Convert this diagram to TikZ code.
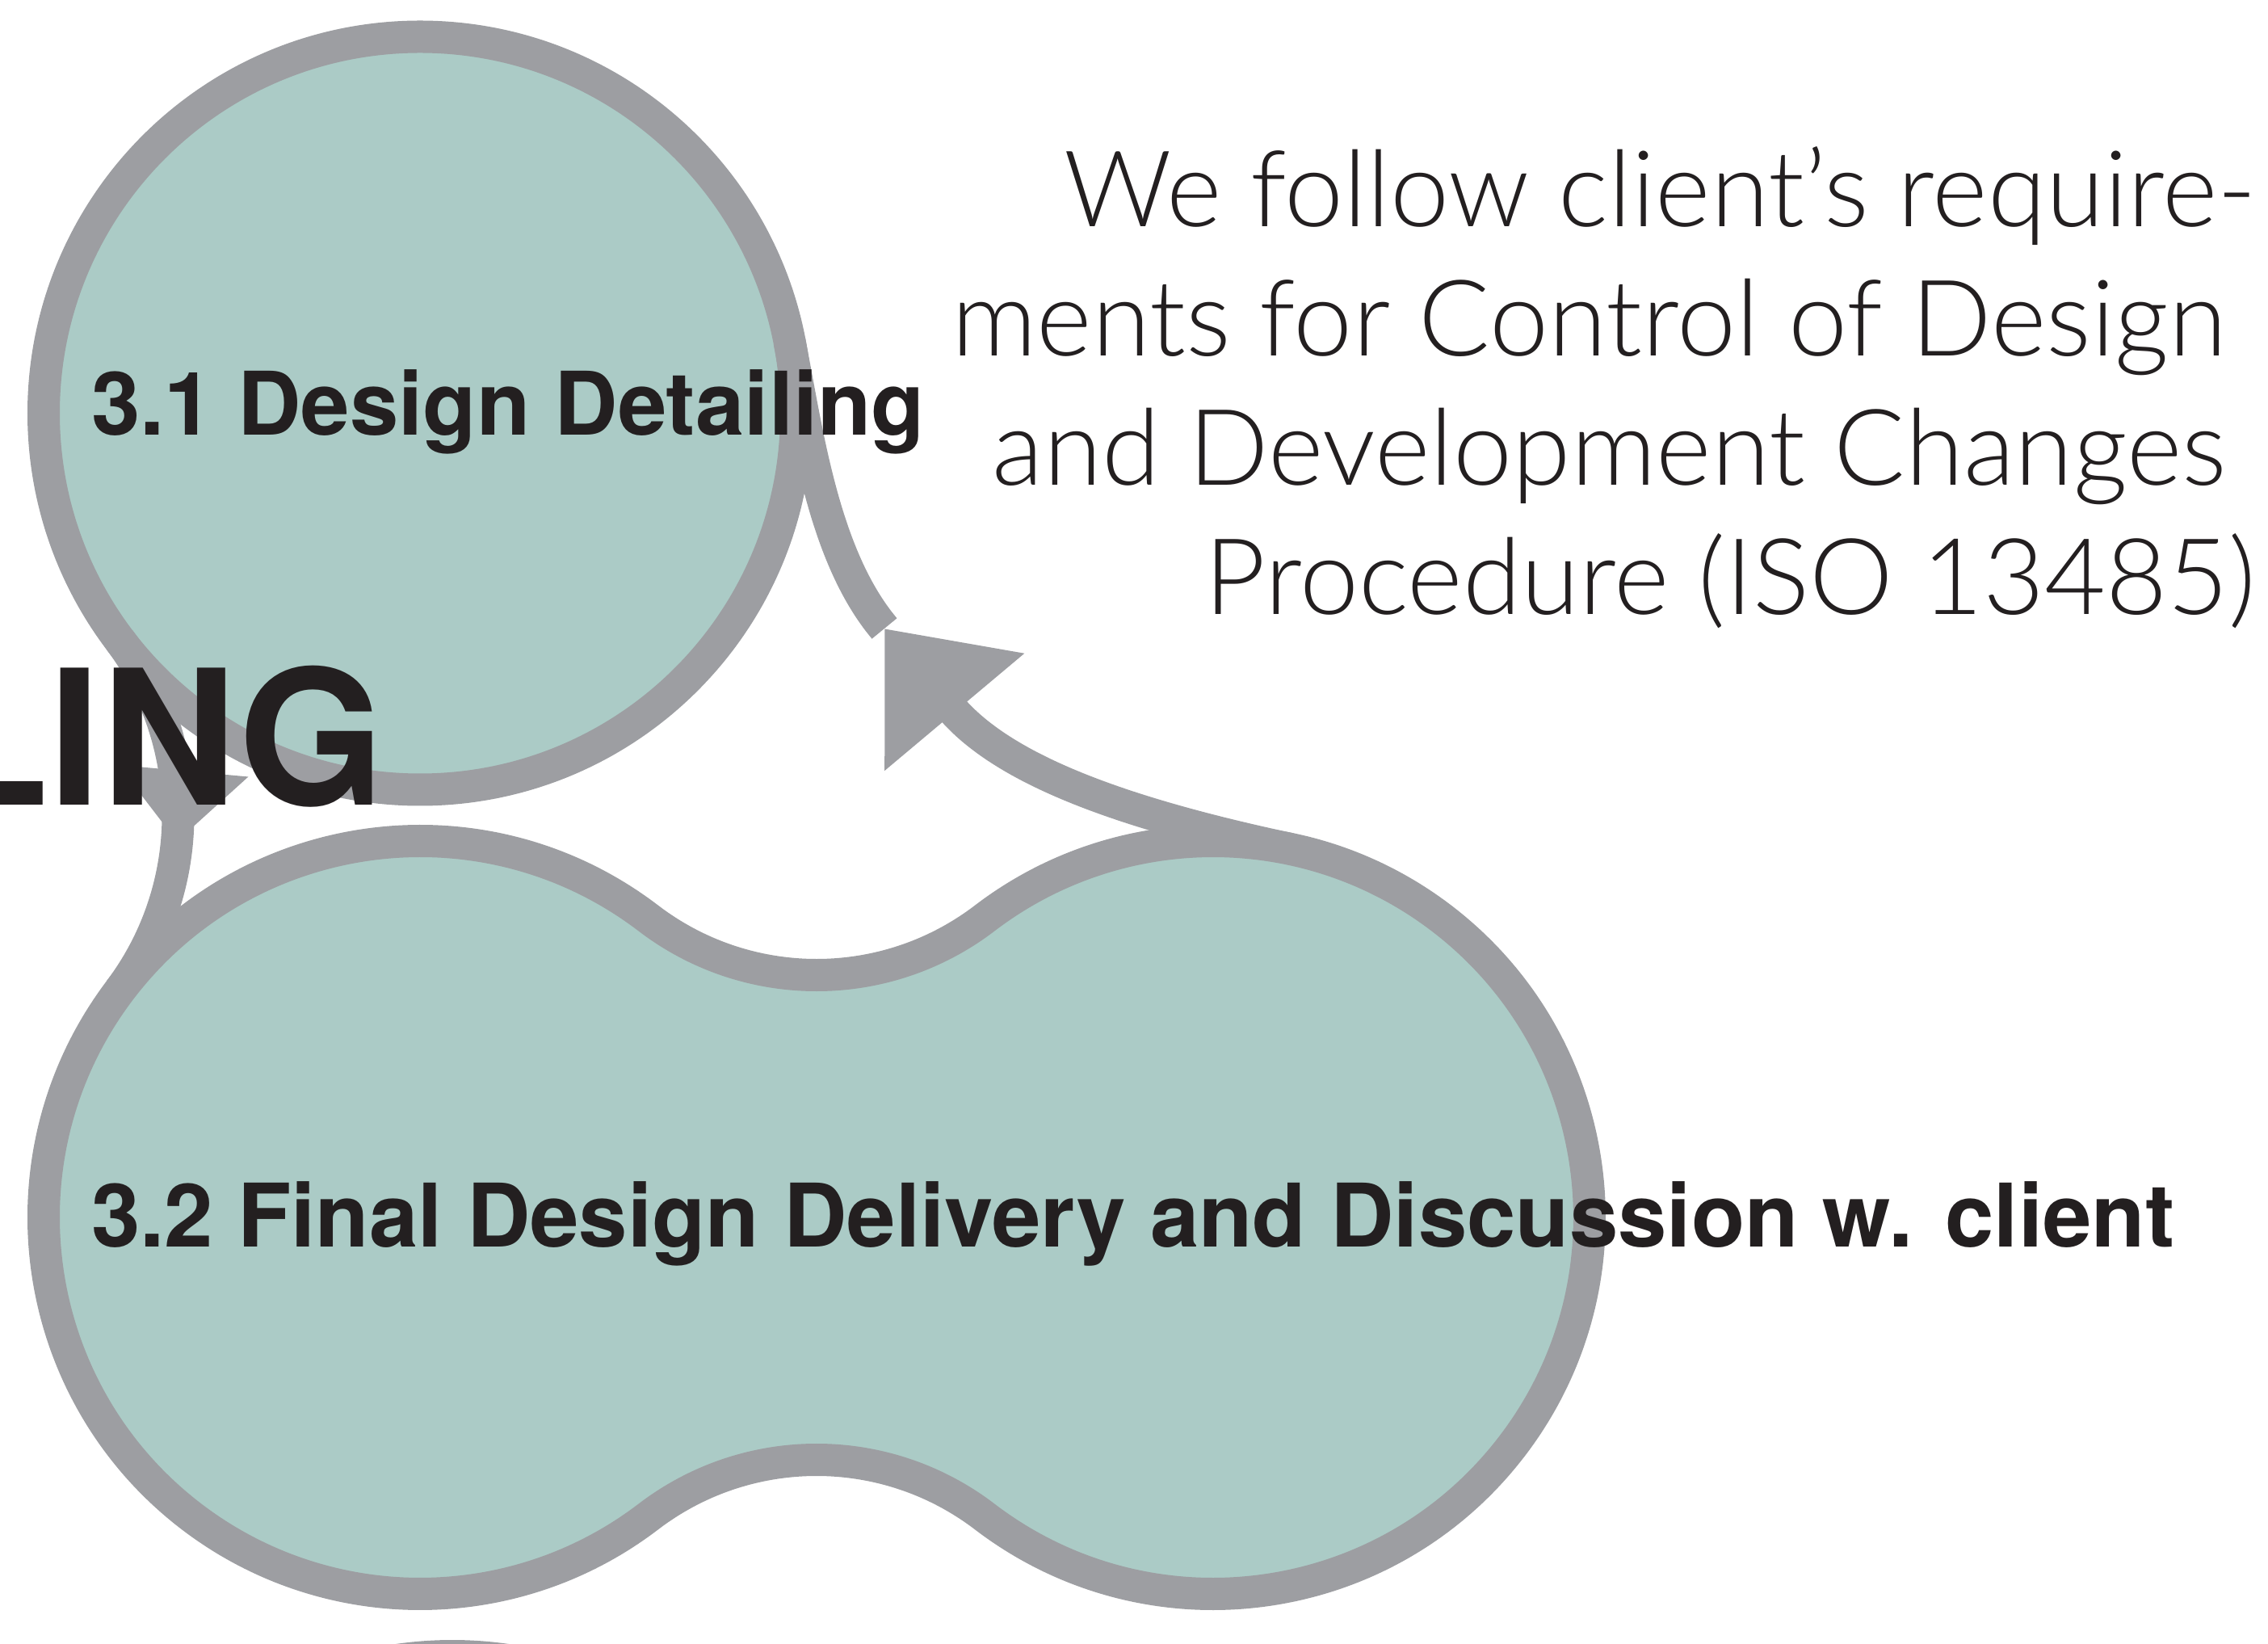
\documentclass[tikz,border=0pt]{standalone}
\usepackage{fontspec}
\setmainfont{TeX Gyre Heros}
\newfontfamily\notefont{Lato Light}
\usetikzlibrary{arrows.meta, decorations.markings}
\definecolor{stagefill}{HTML}{ABCBC6}
\definecolor{stageline}{HTML}{9D9EA2}
\definecolor{ink}{HTML}{231F20}
\tikzset{>=latex}
\tikzset{
  stage/.style={draw=stageline, fill=stagefill, line width=0.4cm},
  link/.style={draw=stageline, line width=0.4cm},
  tipat/.style 2 args={postaction={decorate}, decoration={markings, mark=at position #1 with {\arrow[stageline]{#2}}}},
  stagetext/.style={inner sep=0pt, text=ink, anchor=base west, font=\fontsize{30.9}{37}\selectfont\bfseries}
}

\begin{document}
\begin{tikzpicture}
\useasboundingbox (0,0) rectangle (28.08,20.34);
\clip (0,0) rectangle (28.08,20.34);
\node[stage, circle, minimum size=9.32cm, inner sep=0pt, outer sep=0pt] (detail) at (5.20,15.225) {};
\coordinate (lobeL) at (5.20,5.27);
\coordinate (lobeR) at (15.014,5.27);
\coordinate (deliver) at ([shift={(143:4.66)}]lobeL);
\coordinate (revise) at ([shift={(78:4.66)}]lobeR);
\coordinate (turn) at (10.95,12.56);
\draw[link, tipat={0.57}{Triangle[length=0.88cm,width=1.56cm]}] 
(detail.217) to[out=-53, in=53, looseness=0.95] (deliver);
\draw[link, -{Triangle[length=1.35cm,width=2.17cm]}] 
(revise) to[out=168, in=-50] (turn);
\draw[link] (turn) to[out=130, in=-79, looseness=0.8] (detail.11);
\draw[stage] ([shift={(52.64:4.66)}]lobeL) 
arc[start angle=52.64, end angle=307.36, radius=4.66]
arc[start angle=127.36, end angle=52.64, radius=3.431]
arc[start angle=232.64, end angle=487.36, radius=4.66]
arc[start angle=-52.64, end angle=-127.36, radius=3.431] -- cycle;
\node[stage, circle, minimum size=9.32cm, inner sep=0pt] (next) at (5.60,-4.82) {};
\node[stagetext] (detailtext) at (1.125,14.95) {3.1 Design Detailing};
\node[stagetext] (delivertext) at (1.125,4.91) {3.2 Final Design Delivery and Discussion w. client};
\node[inner sep=0pt, text=ink, anchor=base west, font=\fontsize{66.2}{70}\selectfont\bfseries] (phase) at (-0.82,10.37) {LING};
\node[inner sep=0pt, text=ink, anchor=north east, align=right, font=\notefont\fontsize{37.3}{45.5}\selectfont] (note) at (27.94,18.53) 
{We follow client’s require-\\ments for Control of Design\kern.278em\\and Development Changes\kern.278em\\Procedure (ISO 13485)};
\end{tikzpicture}
\end{document}
